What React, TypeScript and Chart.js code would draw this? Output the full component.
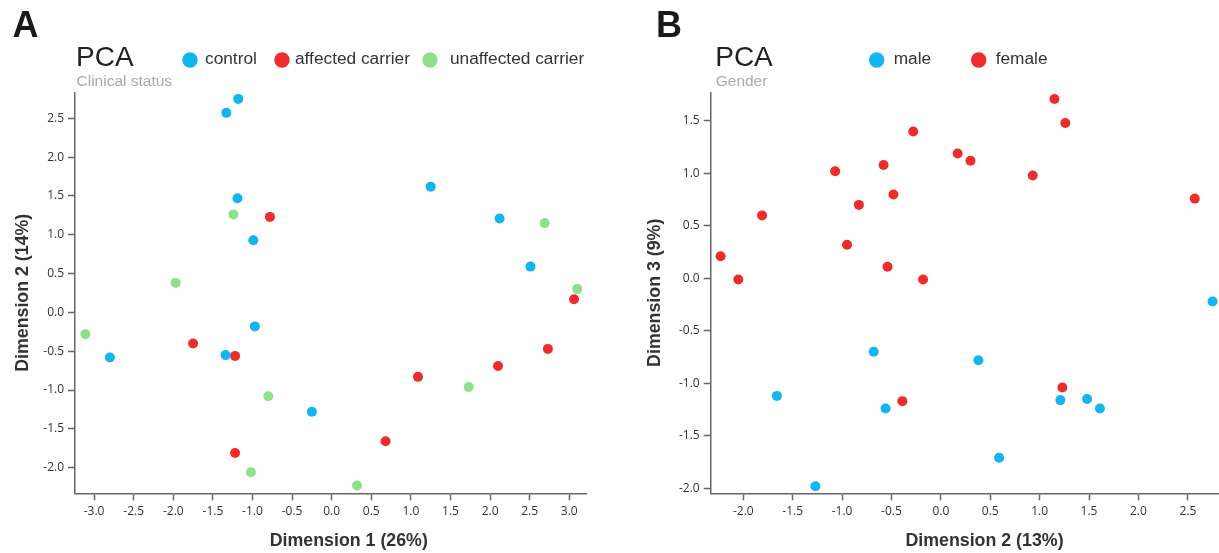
import React, { useEffect, useRef } from "react";
import { Chart, registerables } from "chart.js";

Chart.register(...registerables);

// ---------- Panel A: clinical status (Dimension 1 vs Dimension 2) ----------
const clinicalLabels = ["control", "affected carrier", "unaffected carrier"];
const controlDim1 = [-1.18, -1.33, -1.19, -0.99, 1.25, 2.12, 2.51, -2.8, -0.97, -1.34, -0.25];
const controlDim2 = [2.75, 2.57, 1.47, 0.93, 1.62, 1.21, 0.59, -0.58, -0.18, -0.55, -1.28];
const affectedDim1 = [-0.78, 3.06, -1.75, -1.22, -1.22, 2.73, 2.1, 1.09, 0.68];
const affectedDim2 = [1.23, 0.17, -0.4, -0.56, -1.81, -0.47, -0.69, -0.83, -1.66];
const unaffectedDim1 = [-1.24, -1.97, 2.69, 3.1, -3.11, -0.8, -1.02, 1.73, 0.32];
const unaffectedDim2 = [1.26, 0.38, 1.15, 0.3, -0.28, -1.08, -2.06, -0.96, -2.23];

// ---------- Panel B: gender (Dimension 2 vs Dimension 3) ----------
const genderLabels = ["male", "female"];
const maleDim2 = [2.75, -0.68, -1.66, -0.56, -1.27, 0.38, 1.21, 1.48, 1.61, 0.59];
const maleDim3 = [-0.22, -0.7, -1.12, -1.24, -1.98, -0.78, -1.16, -1.15, -1.24, -1.71];
const femaleDim2 = [-2.23, -2.05, -1.81, -1.07, -0.83, -0.95, -0.58, -0.48, -0.54, -0.28, -0.18, 1.15, 1.26, 0.17, 0.3, 0.93, 2.57, -0.39, 1.23];
const femaleDim3 = [0.21, -0.01, 0.6, 1.02, 0.7, 0.32, 1.08, 0.8, 0.11, 1.4, -0.01, 1.71, 1.48, 1.19, 1.12, 0.98, 0.76, -1.17, -1.04];

// ---------- Tick labels ----------
const ticksA_x = [-3.0, -2.5, -2.0, -1.5, -1.0, -0.5, 0.0, 0.5, 1.0, 1.5, 2.0, 2.5, 3.0];
const ticksA_y = [-2.0, -1.5, -1.0, -0.5, 0.0, 0.5, 1.0, 1.5, 2.0, 2.5];
const ticksB_x = [-2.0, -1.5, -1.0, -0.5, 0.0, 0.5, 1.0, 1.5, 2.0, 2.5];
const ticksB_y = [-2.0, -1.5, -1.0, -0.5, 0.0, 0.5, 1.0, 1.5];

const BLUE = "#12b4f1";
const RED = "#ee2c2c";
const GREEN = "#8fe08c";

const toPoints = (xs: number[], ys: number[]) => xs.map((x, i) => ({ x, y: ys[i] }));

const FONT = '"Liberation Sans", Arial, Helvetica, sans-serif';

const headerPlugin = {
  id: "pcaHeader",
  afterDraw(chart: any, _args: any, opts: any) {
    const ctx = chart.ctx;
    const ax = chart.chartArea.left;
    ctx.save();
    ctx.textBaseline = "alphabetic";
    ctx.textAlign = "left";
    // panel letter
    ctx.font = `bold 36px ${FONT}`;
    ctx.fillStyle = "#1a1a1a";
    ctx.fillText(opts.letter, opts.letterX, 37);
    // title + subtitle
    ctx.font = `28px ${FONT}`;
    ctx.fillStyle = "#222";
    ctx.fillText(opts.title, ax + opts.titleDx, 65.5);
    ctx.font = `15.5px ${FONT}`;
    ctx.fillStyle = "#aaaaaa";
    ctx.fillText(opts.subtitle, ax + opts.titleDx + 0.5, 85.5);
    // legend
    ctx.font = `17.3px ${FONT}`;
    chart.data.datasets.forEach((ds: any, i: number) => {
      ctx.beginPath();
      ctx.arc(ax + opts.dotDx[i], 60, 7.7, 0, Math.PI * 2);
      ctx.fillStyle = ds.backgroundColor;
      ctx.fill();
      ctx.fillStyle = "#333";
      ctx.fillText(ds.label, ax + opts.textDx[i], 64);
    });
    // x axis title
    ctx.font = `bold 17.8px ${FONT}`;
    ctx.textAlign = "center";
    ctx.fillStyle = "#333";
    ctx.fillText(opts.xTitle, ax + 273.8, 546);
    ctx.restore();
  },
};

function axis(ticks: number[], min: number, max: number, fit: (s: any) => void, title?: string, titlePad?: number) {
  return {
    type: "linear",
    min,
    max,
    afterBuildTicks: (s: any) => {
      s.ticks = ticks.map((v) => ({ value: v }));
    },
    afterFit: fit,
    grid: {
      display: true,
      drawOnChartArea: false,
      drawTicks: true,
      tickLength: 7,
      tickColor: "#666",
      tickWidth: 1.5,
    },
    border: { display: true, color: "#666", width: 1.5 },
    ticks: {
      font: { family: '"Open Sans", sans-serif', size: 12 },
      color: "#333",
      padding: 4,
      autoSkip: false,
      maxRotation: 0,
      callback: (v: any) => Number(v).toFixed(1),
    },
    title: title
      ? {
          display: true,
          text: title,
          color: "#333",
          font: { family: FONT, size: 17.8, weight: "bold" },
          padding: { top: titlePad, bottom: 0 },
        }
      : { display: false },
  };
}

export default function App() {
  const refA = useRef<HTMLCanvasElement>(null);
  const refB = useRef<HTMLCanvasElement>(null);

  useEffect(() => {
    const common = {
      type: "scatter",
      plugins: [headerPlugin],
    };
    const dsStyle = { pointRadius: 5, pointHoverRadius: 5, borderWidth: 0, pointBorderWidth: 0 };

    const chartA = new Chart(refA.current as HTMLCanvasElement, {
      ...common,
      data: {
        datasets: [
          { label: clinicalLabels[0], data: toPoints(controlDim1, controlDim2), backgroundColor: BLUE, ...dsStyle },
          { label: clinicalLabels[1], data: toPoints(affectedDim1, affectedDim2), backgroundColor: RED, ...dsStyle },
          { label: clinicalLabels[2], data: toPoints(unaffectedDim1, unaffectedDim2), backgroundColor: GREEN, ...dsStyle },
        ],
      },
      options: {
        responsive: false,
        animation: false,
        devicePixelRatio: 1,
        layout: { padding: { left: 0, top: 92.3, right: 23.3, bottom: 0 } },
        scales: {
          x: axis(ticksA_x, -3.241, 3.22, (s: any) => { s.height = 59.7; }),
          y: axis(ticksA_y, -2.33, 2.835, (s: any) => { s.width = 75; }, "Dimension 2 (14%)", 12),
        },
        plugins: {
          legend: { display: false },
          tooltip: { enabled: false },
          pcaHeader: {
            letter: "A",
            letterX: 12.5,
            title: "PCA",
            subtitle: "Clinical status",
            titleDx: 1,
            dotDx: [115, 207, 355],
            textDx: [130, 220, 375],
            xTitle: "Dimension 1 (26%)",
          },
        },
      },
    } as any);

    const chartB = new Chart(refB.current as HTMLCanvasElement, {
      ...common,
      data: {
        datasets: [
          { label: genderLabels[0], data: toPoints(maleDim2, maleDim3), backgroundColor: BLUE, ...dsStyle },
          { label: genderLabels[1], data: toPoints(femaleDim2, femaleDim3), backgroundColor: RED, ...dsStyle },
        ],
      },
      options: {
        responsive: false,
        animation: false,
        devicePixelRatio: 1,
        layout: { padding: { left: 0, top: 92.3, right: 7.6, bottom: 0 } },
        scales: {
          x: axis(ticksB_x, -2.33, 2.85, (s: any) => { s.height = 59.7; }),
          y: axis(ticksB_y, -2.048, 1.773, (s: any) => { s.width = 100.7; }, "Dimension 3 (9%)", 34.5),
        },
        plugins: {
          legend: { display: false },
          tooltip: { enabled: false },
          pcaHeader: {
            letter: "B",
            letterX: 46,
            title: "PCA",
            subtitle: "Gender",
            titleDx: 4.5,
            dotDx: [166, 268],
            textDx: [183, 285],
            xTitle: "Dimension 2 (13%)",
          },
        },
      },
    } as any);

    return () => {
      chartA.destroy();
      chartB.destroy();
    };
  }, []);

  return (
    <div
      style={{
        position: "absolute",
        left: 0,
        top: 0,
        width: 1219,
        height: 553,
        overflow: "hidden",
        background: "#fff",
      }}
    >
      <canvas
        ref={refA}
        width={610}
        height={553}
        style={{ position: "absolute", left: 0, top: 0, width: 610, height: 553 }}
      />
      <canvas
        ref={refB}
        width={620}
        height={553}
        style={{ position: "absolute", left: 610, top: 0, width: 620, height: 553 }}
      />
    </div>
  );
}
